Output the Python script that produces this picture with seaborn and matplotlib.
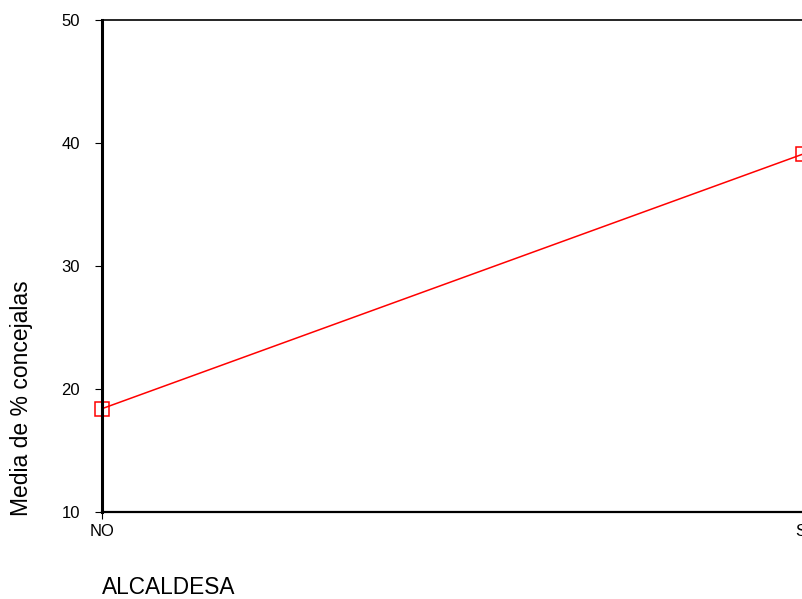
import seaborn as sns
import matplotlib.pyplot as plt
import pandas as pd

categories = ['NO', 'SI']
means = [18.4, 39.1]

df = pd.DataFrame({'ALCALDESA': categories, 'media': means})

sns.set_style('white')
plt.rcParams['font.family'] = ['Liberation Sans', 'DejaVu Sans']
plt.rcParams['text.color'] = 'black'
plt.rcParams['xtick.color'] = 'black'
plt.rcParams['ytick.color'] = 'black'

W, H = 802, 599
fig = plt.figure(figsize=(W / 100, H / 100), dpi=100)
ax = fig.add_axes([102 / W, 87 / H, 701 / W, 492 / H])

sns.lineplot(x=range(len(categories)), y='media', data=df, ax=ax, color='red',
             linewidth=1.1, marker='s', markersize=10.5, markerfacecolor='none',
             markeredgecolor='red', markeredgewidth=1.1, clip_on=False)

ax.set_xlim(0, 1)
ax.set_ylim(10, 50)
ax.set_xticks(range(len(categories)))
ax.set_xticklabels(categories)
ax.set_yticks([10, 20, 30, 40, 50])
ax.set_xlabel('')
ax.set_ylabel('')

ax.tick_params(axis='y', direction='out', length=5, width=0.8, pad=11, labelsize=12,
               left=True, colors='black')
ax.tick_params(axis='x', direction='out', length=5, width=0.8, pad=4, labelsize=12,
               bottom=True, colors='black')

for s in ['left', 'bottom', 'top']:
    ax.spines[s].set_color('black')
ax.spines['left'].set_linewidth(2.2)
ax.spines['bottom'].set_linewidth(1.6)
ax.spines['top'].set_linewidth(1.2)
ax.spines['right'].set_visible(False)

fig.text(102 / W, 1 - 587 / H, 'ALCALDESA', fontsize=16.3, ha='left', va='center',
         color='black')
fig.text(22 / W, 1 - 398 / H, 'Media de % concejalas', fontsize=16.5,
         rotation=90, ha='center', va='center', color='black')

fig.savefig('out.png', dpi=100)
